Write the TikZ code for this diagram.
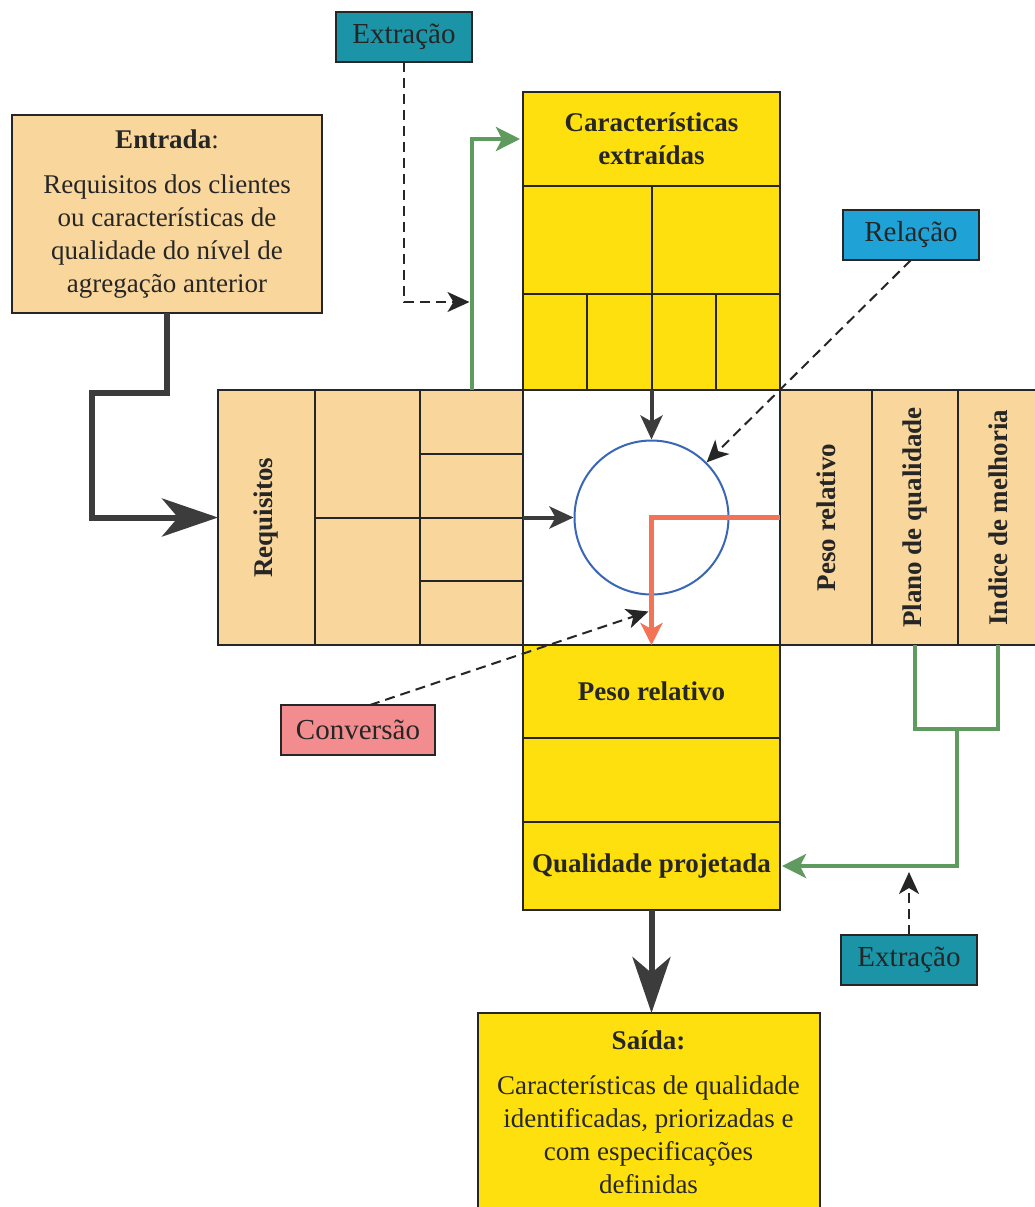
\documentclass[tikz,border=0pt]{standalone}
\usepackage{fontspec}
\setmainfont{Liberation Serif}
\usepackage{graphicx}
\usetikzlibrary{positioning, calc, arrows.meta}

\definecolor{palido}{HTML}{F9D79C}
\definecolor{amarelo}{HTML}{FFE00F}
\definecolor{petroleo}{HTML}{1A94A6}
\definecolor{azulrel}{HTML}{1FA3D6}
\definecolor{rosa}{HTML}{F28C8E}
\definecolor{verde}{HTML}{5F9A5F}
\definecolor{laranja}{HTML}{F27355}
\definecolor{circulo}{HTML}{3A66B8}
\definecolor{escuro}{HTML}{3C3C3C}
\definecolor{tinta}{HTML}{262626}

\tikzstyle{Celula} = [draw=tinta, line width=1pt, outer sep=0pt, inner sep=2pt,
  text=tinta, font=\fontsize{13.5}{16.5}\selectfont\bfseries, align=center]
\tikzstyle{Etiqueta} = [draw=tinta, line width=1pt, outer sep=0pt,
  minimum width=68pt, minimum height=25pt, text=tinta,
  font=\fontsize{14.5}{17}\selectfont]
\tikzstyle{Caixa} = [draw=tinta, line width=1pt, outer sep=0pt, text=tinta,
  align=center, font=\fontsize{13.5}{16.5}\selectfont]
\tikzstyle{Grossa} = [line width=3pt, draw=escuro,
  -{Stealth[length=28pt, width=19pt, inset=8pt, fill=escuro]}]
\tikzstyle{Media} = [line width=2pt, draw=escuro,
  -{Stealth[length=12pt, width=11pt, inset=3pt]}]
\tikzstyle{Verde} = [line width=2pt, draw=verde,
  -{Stealth[length=12pt, width=12pt, inset=3pt]}]
\tikzstyle{Laranja} = [line width=2.5pt, draw=laranja,
  -{Stealth[length=11pt, width=11pt, inset=3pt]}]
\tikzstyle{Tracejada} = [line width=1pt, draw=tinta, dash pattern=on 5pt off 3pt,
  -{Stealth[length=11pt, width=10pt, inset=3pt]}]

\begin{document}
\begin{tikzpicture}[x=0.5pt, y=-0.5pt, node distance=0pt]
    \useasboundingbox[fill=white] (0,0) rectangle (1035,1207);
    % matriz central
    \node [Celula, fill=white, minimum width=128.5pt, minimum height=127.5pt,
      anchor=north west] (matriz) at (523,390) {};
    \node [circle, draw=circulo, line width=1pt, minimum size=77pt] (circ) at (matriz) {};
    % coluna de cima
    \node [Celula, fill=amarelo, minimum width=128.5pt, minimum height=47pt,
      above right=of matriz.north west, yshift=102pt] (carac) {Características\\extraídas};
    \node [Celula, fill=amarelo, minimum width=64.25pt, minimum height=54pt,
      below right=of carac.south west] (r2a) {};
    \node [Celula, fill=amarelo, minimum width=64.25pt, minimum height=54pt,
      right=of r2a] (r2b) {};
    \node [Celula, fill=amarelo, minimum width=32.125pt, minimum height=48pt,
      below right=of r2a.south west] (r3a) {};
    \node [Celula, fill=amarelo, minimum width=32.125pt, minimum height=48pt,
      right=of r3a] (r3b) {};
    \node [Celula, fill=amarelo, minimum width=32.125pt, minimum height=48pt,
      right=of r3b] (r3c) {};
    \node [Celula, fill=amarelo, minimum width=32.125pt, minimum height=48pt,
      right=of r3c] (r3d) {};
    % bloco da esquerda
    \node [Celula, fill=palido, minimum width=51.5pt, minimum height=31.875pt,
      below left=of matriz.north west] (c3a) {};
    \node [Celula, fill=palido, minimum width=51.5pt, minimum height=31.875pt,
      below=of c3a] (c3b) {};
    \node [Celula, fill=palido, minimum width=51.5pt, minimum height=31.875pt,
      below=of c3b] (c3c) {};
    \node [Celula, fill=palido, minimum width=51.5pt, minimum height=31.875pt,
      below=of c3c] (c3d) {};
    \node [Celula, fill=palido, minimum width=52.5pt, minimum height=63.75pt,
      below left=of c3a.north west] (c2a) {};
    \node [Celula, fill=palido, minimum width=52.5pt, minimum height=63.75pt,
      below=of c2a] (c2b) {};
    \node [Celula, fill=palido, minimum width=48.5pt, minimum height=127.5pt,
      below left=of c2a.north west] (req) {\rotatebox{90}{Requisitos}};
    % bloco da direita
    \node [Celula, fill=palido, minimum width=46pt, minimum height=127.5pt,
      below right=of matriz.north east] (peso) {\rotatebox{90}{Peso relativo}};
    \node [Celula, fill=palido, minimum width=43pt, minimum height=127.5pt,
      right=of peso] (plano) {\rotatebox{90}{Plano de qualidade}};
    \node [Celula, fill=palido, minimum width=40pt, minimum height=127.5pt,
      right=of plano] (indice) {\rotatebox{90}{Indice de melhoria}};
    % coluna de baixo
    \node [Celula, fill=amarelo, minimum width=128.5pt, minimum height=46.5pt,
      below right=of matriz.south west] (pesob) {Peso relativo};
    \node [Celula, fill=amarelo, minimum width=128.5pt, minimum height=42pt,
      below=of pesob] (vazio) {};
    \node [Celula, fill=amarelo, minimum width=128.5pt, minimum height=44pt,
      below=of vazio] (qualid) {Qualidade projetada};
    % entrada e saida
    \node [Caixa, fill=palido, minimum width=155pt, minimum height=99pt,
      anchor=north west] (entrada) at (12,115)
      {\textbf{Entrada}:\\[6pt]Requisitos dos clientes\\ou características de\\
       qualidade do nível de\\agregação anterior};
    \node [Caixa, fill=amarelo, minimum width=171pt, minimum height=99pt,
      below=51.5pt of qualid, xshift=-1.5pt] (saida)
      {\textbf{Saída:}\\[6pt]Características de qualidade\\identificadas, priorizadas e\\
       com especificações\\definidas};
    % etiquetas
    \node [Etiqueta, fill=petroleo, anchor=north west] (ext1) at (336,12) {Extração};
    \node [Etiqueta, fill=azulrel, anchor=north west] (rel) at (843,210) {Relação};
    \node [Etiqueta, fill=rosa, minimum width=77pt, anchor=north west] (conv) at (281,705) {Conversão};
    \node [Etiqueta, fill=petroleo, anchor=north west] (ext2) at (841,935) {Extração};
    % pontos auxiliares
    \path (c3a.north) ++(0,-88) coordinate (meioverde);
    \path (circ.south) ++(0,16) coordinate (meiolaranja);
    \path ($(plano.south)!0.5!(indice.south)$) ++(0,84) coordinate (junta);
    % ligacoes
    \draw[Grossa] (entrada.south) -- ++(0,80) -- ++(-75,0) |- (req.west);
    \draw[Verde] (c3a.north) |- ([xshift=-1.5pt]carac.west);
    \draw[Tracejada, shorten >=1pt] (ext1.south) |- (meioverde);
    \draw[Media] (matriz.north) -- (circ.north);
    \draw[Media] (matriz.west) -- (circ.west);
    \draw[Tracejada] (rel.south) -- (circ.45);
    \draw[Laranja] (matriz.east) -- (circ.center) -- (matriz.south);
    \draw[Tracejada] ([xshift=6pt]conv.north) -- ([xshift=-1.5pt]meiolaranja);
    \draw[Verde, -] (plano.south) -- ++(0,84) -| (indice.south);
    \draw[Verde] (junta) |- ([xshift=1pt]qualid.east);
    \draw[Tracejada, shorten >=3pt] (ext2.north) -- (ext2.north |- qualid.east);
    \draw[Grossa] (qualid.south) -- (qualid.south |- saida.north);
\end{tikzpicture}
\end{document}
